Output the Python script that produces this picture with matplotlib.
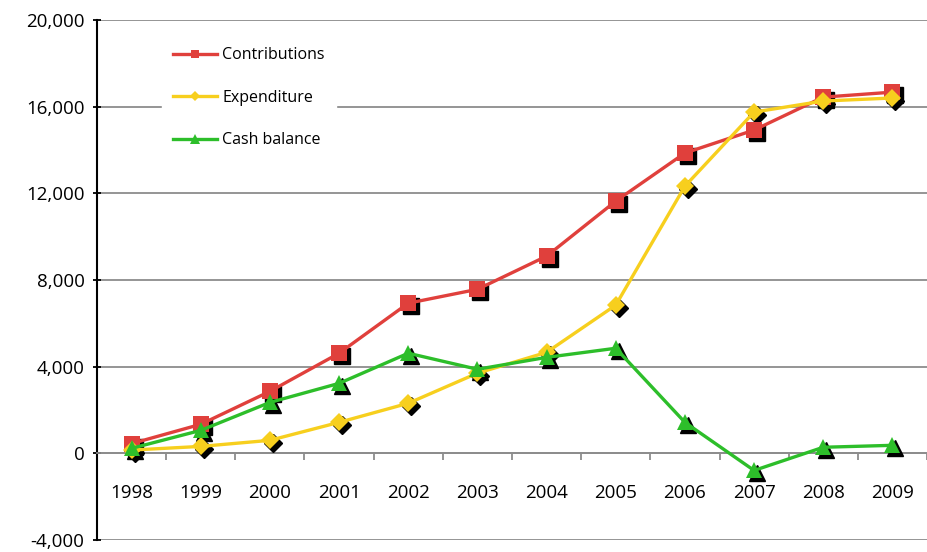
import numpy as np
import matplotlib
matplotlib.use("Agg")
import matplotlib.pyplot as plt
from matplotlib import transforms
from matplotlib.ticker import FuncFormatter, MultipleLocator

# Data
years = ["1998", "1999", "2000", "2001", "2002", "2003",
         "2004", "2005", "2006", "2007", "2008", "2009"]
contributions = [450, 1340, 2860, 4620, 6930, 7570, 9100, 11640, 13860, 14920, 16440, 16670]
expenditure = [150, 320, 600, 1430, 2310, 3700, 4660, 6840, 12330, 15750, 16260, 16400]
cash_balance = [230, 1060, 2350, 3230, 4620, 3880, 4430, 4850, 1430, -790, 280, 370]

plt.rcParams['font.family'] = ['Open Sans', 'DejaVu Sans']

fig = plt.figure(figsize=(9.27, 5.52), dpi=100)
ax = fig.add_axes([97 / 927, 12 / 552, 830 / 927, 520 / 552])

x = np.arange(len(years))
series = [
    (contributions, "Contributions", "#E0403C", "s", 11),
    (expenditure, "Expenditure", "#F7CF1E", "D", 9),
    (cash_balance, "Cash balance", "#2DBE2A", "^", 12),
]

# drop shadows under the markers
shadow = transforms.offset_copy(ax.transData, fig=fig, x=3, y=-3, units="dots")
for vals, label, color, marker, ms in series:
    ax.plot(x, vals, linestyle="none", marker=marker, markersize=ms,
            color="black", transform=shadow, zorder=3)

handles = []
for i, (vals, label, color, marker, ms) in enumerate(series):
    h, = ax.plot(x, vals, color=color, lw=2.4, marker=marker, markersize=ms,
                 markeredgewidth=0, label=label, zorder=4 + i)
    handles.append(h)

ax.set_xlim(-0.5, 11.5)
ax.set_ylim(-4000, 20000)
ax.yaxis.set_major_locator(MultipleLocator(4000))
ax.yaxis.set_major_formatter(FuncFormatter(lambda v, p: f"{int(v):,}"))
ax.grid(axis="y", color="#8c8c8c", lw=1.3, zorder=0)

ax.set_xticks(x)
ax.set_xticklabels(years)
ax.set_xticks(np.arange(-0.5, 12, 1), minor=True)
ax.tick_params(axis="x", which="major", length=0, pad=22, labelsize=13.5)
ax.tick_params(axis="x", which="minor", length=5, width=1.3, color="#8c8c8c", direction="out")
ax.tick_params(axis="y", length=6, width=1.3, direction="inout", labelsize=13.5, pad=6)

for s in ["top", "right"]:
    ax.spines[s].set_visible(False)
ax.spines["bottom"].set_position(("data", 0))
ax.spines["bottom"].set_color("#8c8c8c")
ax.spines["bottom"].set_linewidth(1.3)
ax.spines["left"].set_linewidth(1.5)

leg = ax.legend(handles=handles, loc="upper left", bbox_to_anchor=(0.072, 0.978),
                frameon=True, fancybox=False, framealpha=1, edgecolor="white",
                fontsize=11.5, labelspacing=1.65, handlelength=2.8, handletextpad=0.3,
                borderpad=0.7, borderaxespad=0.3, markerscale=0.55)
leg.set_zorder(10)

fig.savefig("out.png", dpi=100)
